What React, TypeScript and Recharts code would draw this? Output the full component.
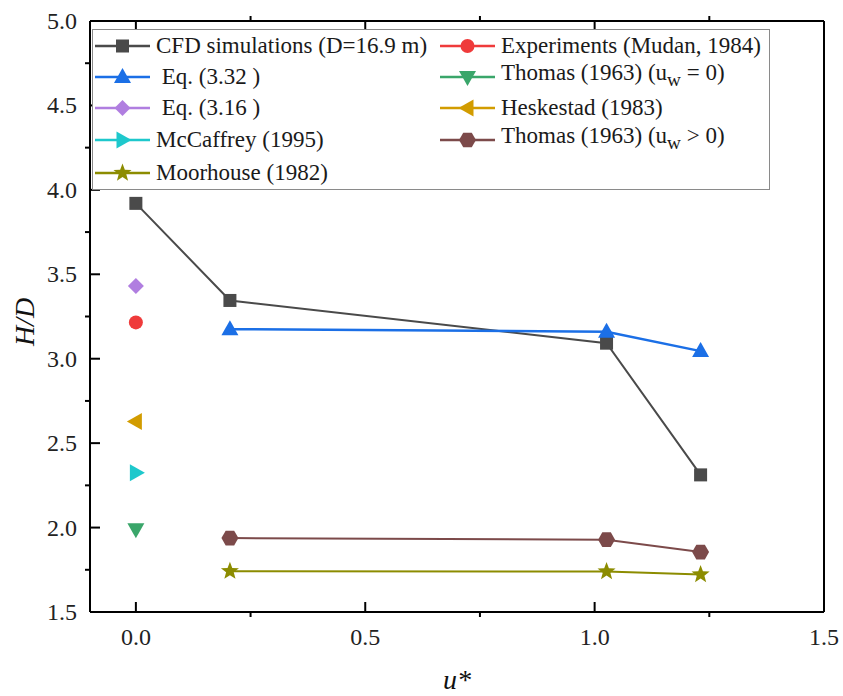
import React from 'react';
import { LineChart, Line, XAxis, YAxis, Legend } from 'recharts';

// u* values shared by the series
const uStar = [0, 0.205, 1.026, 1.231];

// H/D values per series (null = not measured at that u*)
const cfd = [3.92, 3.345, 3.092, 2.312];
const experiments = [3.215, null, null, null];
const eq332 = [null, 3.175, 3.16, 3.045];
const thomasCalm = [1.99, null, null, null];
const eq316 = [3.43, null, null, null];
const heskestad = [2.628, null, null, null];
const mcCaffrey = [2.325, null, null, null];
const thomasWind = [null, 1.938, 1.928, 1.855];
const moorhouse = [null, 1.742, 1.74, 1.722];

const xTicks = [0, 0.25, 0.5, 0.75, 1, 1.25, 1.5];
const yTicks = [1.5, 1.75, 2, 2.25, 2.5, 2.75, 3, 3.25, 3.5, 3.75, 4, 4.25, 4.5, 4.75, 5];

const FONT = 'Liberation Serif, DejaVu Serif, serif';

type Shape = 'square' | 'circle' | 'up' | 'down' | 'diamond' | 'left' | 'right' | 'hexagon' | 'star';

const series: { key: string; name: React.ReactNode; color: string; shape: Shape; width: number; values: (number | null)[] }[] = [
    { key: 'cfd', name: 'CFD simulations (D=16.9 m)', color: '#4a4a4a', shape: 'square', width: 2, values: cfd },
    { key: 'experiments', name: 'Experiments (Mudan, 1984)', color: '#ef3b3b', shape: 'circle', width: 2, values: experiments },
    { key: 'eq332', name: '\u00a0Eq. (3.32 )', color: '#1b6fe6', shape: 'up', width: 2.5, values: eq332 },
    { key: 'thomasCalm', name: <>Thomas (1963) (u<sub>w</sub> = 0)</>, color: '#3aa66a', shape: 'down', width: 2, values: thomasCalm },
    { key: 'eq316', name: '\u00a0Eq. (3.16 )', color: '#b07ee0', shape: 'diamond', width: 2, values: eq316 },
    { key: 'heskestad', name: 'Heskestad (1983)', color: '#d29c00', shape: 'left', width: 2, values: heskestad },
    { key: 'mcCaffrey', name: 'McCaffrey (1995)', color: '#1ec8cc', shape: 'right', width: 2, values: mcCaffrey },
    { key: 'thomasWind', name: <>Thomas (1963) (u<sub>w</sub> &gt; 0)</>, color: '#7c4a4a', shape: 'hexagon', width: 2, values: thomasWind },
    { key: 'moorhouse', name: 'Moorhouse (1982)', color: '#8c8c00', shape: 'star', width: 2, values: moorhouse },
];

const data = uStar.map((u, i) => {
    const row: Record<string, number | null> = { u };
    series.forEach(s => { row[s.key] = s.values[i]; });
    return row;
});

const poly = (pts: number[][]) => pts.map(p => p.join(',')).join(' ');

const Marker = ({ shape, cx, cy, color }: { shape: Shape; cx: number; cy: number; color: string }) => {
    switch (shape) {
        case 'square':
            return <rect x={cx - 6.5} y={cy - 6.5} width={13} height={13} fill={color} />;
        case 'circle':
            return <circle cx={cx} cy={cy} r={7} fill={color} />;
        case 'up':
            return <polygon points={poly([[cx, cy - 9], [cx + 8.5, cy + 6], [cx - 8.5, cy + 6]])} fill={color} />;
        case 'down':
            return <polygon points={poly([[cx, cy + 9], [cx + 8.5, cy - 6], [cx - 8.5, cy - 6]])} fill={color} />;
        case 'left':
            return <polygon points={poly([[cx - 9, cy], [cx + 6, cy - 8.5], [cx + 6, cy + 8.5]])} fill={color} />;
        case 'right':
            return <polygon points={poly([[cx + 9, cy], [cx - 6, cy - 8.5], [cx - 6, cy + 8.5]])} fill={color} />;
        case 'diamond':
            return <polygon points={poly([[cx, cy - 8], [cx + 8, cy], [cx, cy + 8], [cx - 8, cy]])} fill={color} />;
        case 'hexagon': {
            const pts = [0, 1, 2, 3, 4, 5].map(k => {
                const a = (Math.PI / 3) * k;
                return [cx + 8.5 * Math.cos(a), cy + 8.5 * Math.sin(a)];
            });
            return <polygon points={poly(pts)} fill={color} />;
        }
        case 'star': {
            const pts = Array.from({ length: 10 }, (_, k) => {
                const r = k % 2 === 0 ? 9.5 : 4;
                const a = -Math.PI / 2 + (Math.PI / 5) * k;
                return [cx + r * Math.cos(a), cy + r * Math.sin(a)];
            });
            return <polygon points={poly(pts)} fill={color} />;
        }
    }
    return null;
};

const isMajor = (v: number) => Math.abs(v * 2 - Math.round(v * 2)) < 1e-6;

const BottomTick = ({ x, y, payload }: any) => {
    const major = isMajor(payload.value);
    return (
        <g>
            <line x1={x} x2={x} y1={y} y2={major ? y - 10 : y + 5} stroke="#000" strokeWidth={2} />
            {major && (
                <text x={x} y={y + 33} textAnchor="middle" style={{ fontFamily: FONT }} fontSize={24} fill="#222">
                    {payload.value.toFixed(1)}
                </text>
            )}
        </g>
    );
};

const TopTick = ({ x, y, payload }: any) => {
    const major = isMajor(payload.value);
    return <line x1={x} x2={x} y1={y} y2={major ? y + 10 : y - 5} stroke="#000" strokeWidth={2} />;
};

const LeftTick = ({ x, y, payload }: any) => {
    const major = isMajor(payload.value);
    return (
        <g>
            <line x1={x} x2={major ? x + 10 : x - 5} y1={y} y2={y} stroke="#000" strokeWidth={2} />
            {major && (
                <text x={x - 13} y={y + 8} textAnchor="end" style={{ fontFamily: FONT }} fontSize={24} fill="#222">
                    {payload.value.toFixed(1)}
                </text>
            )}
        </g>
    );
};

const RightTick = ({ x, y, payload }: any) => {
    const major = isMajor(payload.value);
    return <line x1={x} x2={major ? x - 10 : x + 5} y1={y} y2={y} stroke="#000" strokeWidth={2} />;
};

const renderLegend = () => (
    <div
        style={{
            boxSizing: 'border-box',
            width: 678,
            height: 161,
            border: '1px solid #8a8a8a',
            background: '#fff',
            display: 'grid',
            gridTemplateColumns: '345px 1fr',
            gridTemplateRows: '31px 31px 31px 33px 33px',
            paddingLeft: 2,
            fontFamily: FONT,
            fontSize: 23,
            color: '#1a1a1a',
        }}
    >
        {series.map(s => (
            <div key={s.key} style={{ display: 'flex', alignItems: 'center', whiteSpace: 'nowrap' }}>
                <svg width={55} height={24} style={{ flex: 'none' }}>
                    <line x1={0} x2={55} y1={12} y2={12} stroke={s.color} strokeWidth={2.5} />
                    <Marker shape={s.shape} cx={27.5} cy={12} color={s.color} />
                </svg>
                <span style={{ marginLeft: 6, lineHeight: '24px' }}>{s.name}</span>
            </div>
        ))}
    </div>
);

export default function App() {
    return (
        <div style={{ position: 'absolute', left: 0, top: 0, background: '#fff', fontFamily: FONT }}>
            <LineChart width={843} height={696} data={data} margin={{ top: 11, right: 9, bottom: 24, left: 30 }}>
                <XAxis
                    xAxisId="bottom"
                    dataKey="u"
                    type="number"
                    domain={[-0.1, 1.5]}
                    ticks={xTicks}
                    interval={0}
                    height={60}
                    tickSize={0}
                    tickMargin={0}
                    tickLine={false}
                    axisLine={{ stroke: '#000', strokeWidth: 2 }}
                    tick={<BottomTick />}
                    label={{
                        content: ({ viewBox }: any) => (
                            <text x={viewBox.x + viewBox.width / 2} y={viewBox.y + 77} textAnchor="middle" style={{ fontFamily: FONT }} fontStyle="italic" fontSize={28} fill="#111">
                                u*
                            </text>
                        ),
                    }}
                />
                <XAxis
                    xAxisId="top"
                    orientation="top"
                    dataKey="u"
                    type="number"
                    domain={[-0.1, 1.5]}
                    ticks={xTicks}
                    interval={0}
                    height={10}
                    tickSize={0}
                    tickMargin={0}
                    tickLine={false}
                    axisLine={{ stroke: '#000', strokeWidth: 2 }}
                    tick={<TopTick />}
                />
                <YAxis
                    yAxisId="left"
                    type="number"
                    domain={[1.5, 5]}
                    ticks={yTicks}
                    interval={0}
                    width={60}
                    tickSize={0}
                    tickMargin={0}
                    tickLine={false}
                    axisLine={{ stroke: '#000', strokeWidth: 2 }}
                    tick={<LeftTick />}
                    label={{
                        content: ({ viewBox }: any) => {
                            const cx = viewBox.x - 6;
                            const cy = viewBox.y + 301;
                            return (
                                <text x={cx} y={cy} transform={`rotate(-90 ${cx} ${cy})`} textAnchor="middle" dominantBaseline="central" style={{ fontFamily: FONT }} fontStyle="italic" fontSize={28} fill="#111">
                                    H/D
                                </text>
                            );
                        },
                    }}
                />
                <YAxis
                    yAxisId="right"
                    orientation="right"
                    type="number"
                    domain={[1.5, 5]}
                    ticks={yTicks}
                    interval={0}
                    width={10}
                    tickSize={0}
                    tickMargin={0}
                    tickLine={false}
                    axisLine={{ stroke: '#000', strokeWidth: 2 }}
                    tick={<RightTick />}
                />
                <Legend
                    layout="vertical"
                    align="center"
                    verticalAlign="middle"
                    content={renderLegend}
                    wrapperStyle={{ left: 92, top: 29, width: 678, height: 161 }}
                />
                {series.map(s => (
                    <Line
                        key={s.key}
                        xAxisId="bottom"
                        yAxisId="left"
                        dataKey={s.key}
                        stroke={s.color}
                        strokeWidth={s.width}
                        isAnimationActive={false}
                        legendType="none"
                        dot={(props: any) => {
                            const { cx, cy, index } = props;
                            if (cx == null || cy == null || props.value == null) return <g key={`${s.key}-${index}`} />;
                            return (
                                <g key={`${s.key}-${index}`}>
                                    <Marker shape={s.shape} cx={cx} cy={cy} color={s.color} />
                                </g>
                            );
                        }}
                    />
                ))}
            </LineChart>
        </div>
    );
}
